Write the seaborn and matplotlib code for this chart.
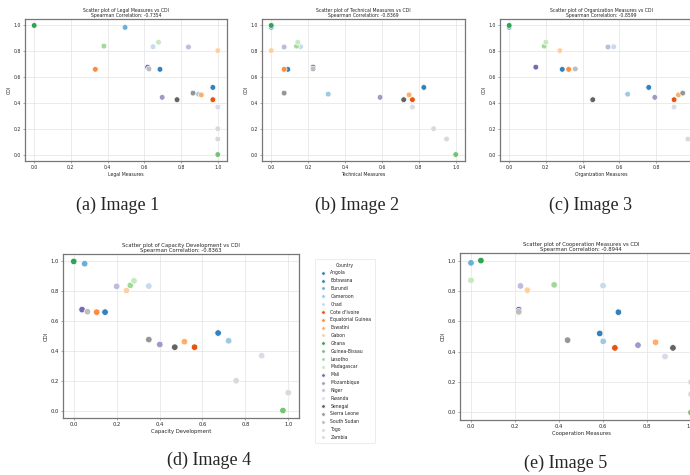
import numpy as np
import pandas as pd
import matplotlib
matplotlib.use('Agg')
import matplotlib.pyplot as plt
import seaborn as sns

sns.set_style('whitegrid')

# data
countries = ['Angola', 'Botswana', 'Burundi', 'Cameroon', 'Chad', "Cote d'Ivoire",
             'Equatorial Guinea', 'Eswatini', 'Gabon', 'Ghana', 'Guinea-Bissau',
             'Lesotho', 'Madagascar', 'Mali', 'Mozambique', 'Niger', 'Rwanda',
             'Senegal', 'Sierra Leone', 'South Sudan', 'Togo', 'Zambia']
cdi = [0.66, 0.52, 0.985, 0.468, 0.835, 0.425, 0.66, 0.462, 0.805, 1.0, 0.0,
       0.84, 0.87, 0.677, 0.443, 0.833, 0.368, 0.425, 0.476, 0.663, 0.2, 0.12]
legal = [0.685, 0.973, 0.495, 0.895, 0.647, 0.973, 0.333, 0.91, 1.0, 0.0, 1.0,
         0.38, 0.677, 0.618, 0.697, 0.84, 1.0, 0.778, 0.865, 0.625, 1.0, 1.0]
technical = [0.09, 0.827, 0.0, 0.309, 0.159, 0.765, 0.07, 0.747, 0.0, 0.0, 1.0,
             0.137, 0.144, 0.227, 0.59, 0.07, 0.765, 0.718, 0.07, 0.227, 0.88, 0.95]
organization = [0.289, 0.76, 0.0, 0.645, 0.569, 0.898, 0.324, 0.922, 0.276, 0.0, 1.0,
                0.191, 0.2, 0.145, 0.793, 0.538, 0.898, 0.455, 0.945, 0.36, 1.0, 0.973]
capacity = [0.146, 0.673, 0.051, 0.722, 0.35, 0.563, 0.107, 0.516, 0.246, 0.0, 0.975,
            0.264, 0.281, 0.039, 0.401, 0.2, 0.876, 0.471, 0.35, 0.064, 0.757, 1.0]
cooperation = [0.67, 0.585, 0.0, 0.601, 0.6, 0.654, 0.217, 0.839, 0.256, 0.045, 1.0,
               0.378, 0.0, 0.217, 0.759, 0.225, 0.882, 0.918, 0.439, 0.217, 1.0, 1.0]
spearman = ['-0.7354', '-0.8369', '-0.8599', '-0.8363', '-0.8944']

df = pd.DataFrame({'Country': countries, 'CDI': cdi,
                   'Legal Measures': legal, 'Technical Measures': technical,
                   'Organization Measures': organization,
                   'Capacity Development': capacity,
                   'Cooperation Measures': cooperation})

pal = dict(zip(countries, plt.cm.tab20c(np.linspace(0, 1, len(countries)))))

fig = plt.figure(figsize=(6.9, 4.75), dpi=100)
W, H = 690, 475

def px_axes(left, top, right, bottom):
    return fig.add_axes([left / W, 1 - bottom / H, (right - left) / W, (bottom - top) / H])

# (column, axes box in pixels, font size, marker size, caption, caption pos)
panels = [
    ('Legal Measures', (25, 19, 227, 161), 3.3, 17, '(a) Image 1', (118, 205)),
    ('Technical Measures', (262, 19, 465, 161), 3.3, 17, '(b) Image 2', (357, 205)),
    ('Organization Measures', (500, 19, 702, 161), 3.3, 17, '(c) Image 3', (591, 205)),
    ('Capacity Development', (63, 254, 299, 418), 3.8, 22, '(d) Image 4', (209, 460)),
    ('Cooperation Measures', (460, 253, 702, 420), 3.8, 22, '(e) Image 5', (566, 463)),
]

handles = labels = None
for i, (col, box, fs, ms, cap, cpos) in enumerate(panels):
    ax = px_axes(*box)
    sns.scatterplot(data=df, x=col, y='CDI', hue='Country', palette=pal, s=ms,
                    edgecolor='white', linewidth=0.5, ax=ax, legend=(i == 3))
    if i == 3:
        handles, labels = ax.get_legend_handles_labels()
        ax.get_legend().remove()
    ax.set_title(f'Scatter plot of {col} vs CDI\nSpearman Correlation: {spearman[i]}',
                 fontsize=fs, pad=1.5, linespacing=1.0)
    ax.set_xlabel(col, fontsize=fs, labelpad=1.5)
    ax.set_ylabel('CDI', fontsize=fs, labelpad=1.5)
    ticks = [0.0, 0.2, 0.4, 0.6, 0.8, 1.0]
    ax.set_xticks(ticks)
    ax.set_yticks(ticks)
    ax.margins(0.05)
    ax.tick_params(labelsize=fs, length=1.5, width=0.4, pad=1.2, color='#666666',
                   bottom=True, left=True)
    ax.grid(True, color='#e3e3e3', linewidth=0.5)
    for s in ax.spines.values():
        s.set_edgecolor('#777777')
        s.set_linewidth(0.9)
    fig.text(cpos[0] / W, 1 - cpos[1] / H, cap, ha='center', va='center',
             fontsize=13, family='Liberation Serif')

leg = fig.legend(handles, labels, title='Country', loc='upper left',
                 bbox_to_anchor=(313 / W, 1 - 257 / H), fontsize=3.3,
                 title_fontsize=3.3, labelspacing=0.62, borderpad=0.7,
                 handletextpad=0.6, markerscale=0.55, frameon=True)
leg.get_frame().set_edgecolor('#dddddd')
leg.get_frame().set_linewidth(0.5)

fig.savefig('out.png', dpi=100)
